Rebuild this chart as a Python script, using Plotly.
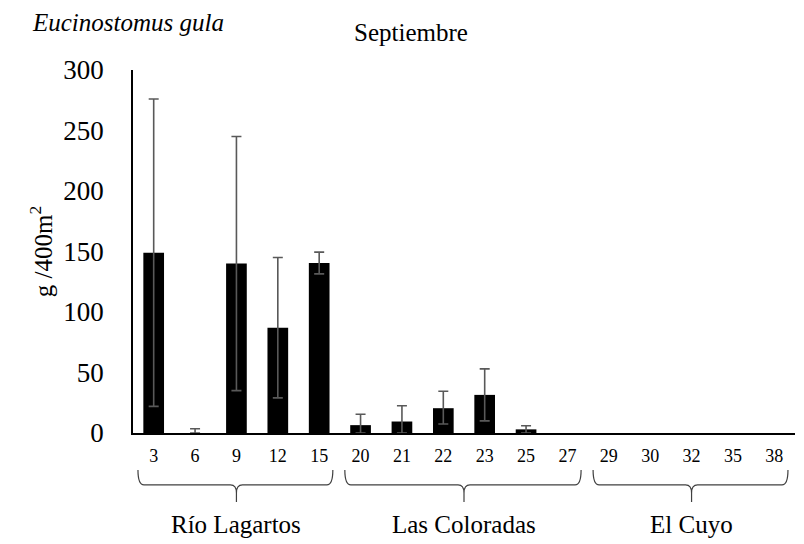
import plotly.graph_objects as go

categories = ["3", "6", "9", "12", "15", "20", "21", "22", "23", "25", "27", "29", "30", "32", "35", "38"]
values = [149, 0, 140, 87, 140.5, 6.5, 9.5, 20.5, 31.5, 3, 0, 0, 0, 0, 0, 0]
err_categories = ["3", "6", "9", "12", "15", "20", "21", "22", "23", "25"]
err_plus = [127, 3.5, 105, 58, 9, 9, 13, 14, 21.5, 3]
err_minus = [127, 0, 105, 58, 9, 6.5, 9.5, 13, 21.5, 3]
groups = ["Río Lagartos", "Las Coloradas", "El Cuyo"]
group_start = [0, 5, 11]
group_end = [4, 10, 15]
y_ticks = [0, 50, 100, 150, 200, 250, 300]

FONT = "Liberation Serif, Times New Roman, serif"
N = len(categories)

fig = go.Figure()
fig.add_trace(go.Bar(
    x=categories, y=values,
    marker=dict(color="black", line=dict(width=0)),
))
fig.add_trace(go.Scatter(
    x=err_categories, y=[values[categories.index(c)] for c in err_categories],
    mode="markers", marker=dict(size=0.1, color="rgba(0,0,0,0)"),
    error_y=dict(type="data", symmetric=False, array=err_plus, arrayminus=err_minus,
                 color="#595959", thickness=1.6, width=5),
    hoverinfo="skip",
))

def px(i):
    return (i + 0.5) / N

shapes = []
yt, ym, ym2, yb = -0.102, -0.143, -0.165, -0.19
dx = 6 / 662
for s, e in zip(group_start, group_end):
    x0 = px(s - 0.38)
    x1 = px(e + 0.33)
    xc = (px(s) + px(e)) / 2
    path = (f"M {x0},{yt} Q {x0},{ym} {x0+dx},{ym} L {xc-dx},{ym} "
            f"Q {xc},{ym} {xc},{ym2} L {xc},{yb} M {xc},{ym2} "
            f"Q {xc},{ym} {xc+dx},{ym} L {x1-dx},{ym} Q {x1},{ym} {x1},{yt}")
    shapes.append(dict(type="path", path=path, xref="paper", yref="paper",
                       line=dict(color="#404040", width=1.2)))

W, H = 804, 544
L, R, T, B = 133, 9, 70, 111
pw, ph = W - L - R, H - T - B

def to_paper(xp, yp):
    return (xp - L) / pw, (H - B - yp) / ph

annotations = []
for g, s, e in zip(groups, group_start, group_end):
    annotations.append(dict(text=g, x=(px(s) + px(e)) / 2, y=-0.251, xref="paper", yref="paper",
                            showarrow=False, xanchor="center", yanchor="middle",
                            font=dict(family=FONT, size=25, color="black")))
ex, ey = to_paper(30, 22)
annotations.append(dict(text="<i>Eucinostomus gula</i>", x=ex, y=ey, xref="paper", yref="paper",
                        showarrow=False, xanchor="left", yanchor="middle",
                        font=dict(family=FONT, size=25, color="black")))
sx, sy = to_paper(411, 33)
annotations.append(dict(text="Septiembre", x=sx, y=sy, xref="paper", yref="paper", showarrow=False,
                        xanchor="center", yanchor="middle",
                        font=dict(family=FONT, size=25, color="black")))

fig.update_layout(
    width=W, height=H,
    margin=dict(l=L, r=R, t=T, b=B),
    paper_bgcolor="white", plot_bgcolor="white",
    bargap=0.5,
    showlegend=False,
    shapes=shapes,
    annotations=annotations,
    font=dict(family=FONT, color="black"),
    xaxis=dict(type="category", categoryorder="array", categoryarray=categories,
               range=[-0.5, N - 0.5], showline=True, linecolor="black", linewidth=1.5,
               layer="above traces",
               ticks="", tickfont=dict(family=FONT, size=18, color="black"),
               ticklabelstandoff=6, showgrid=False, zeroline=False),
    yaxis=dict(range=[0, 300], tickvals=y_ticks, showline=True, linecolor="black", linewidth=1.5,
               layer="above traces",
               ticks="", tickfont=dict(family=FONT, size=27, color="black"),
               ticklabelstandoff=22, showgrid=False, zeroline=False,
               title=dict(text="g /400m<sup>2</sup>", font=dict(family=FONT, size=25, color="black"),
                          standoff=4)),
)

fig.write_html("out.html")
